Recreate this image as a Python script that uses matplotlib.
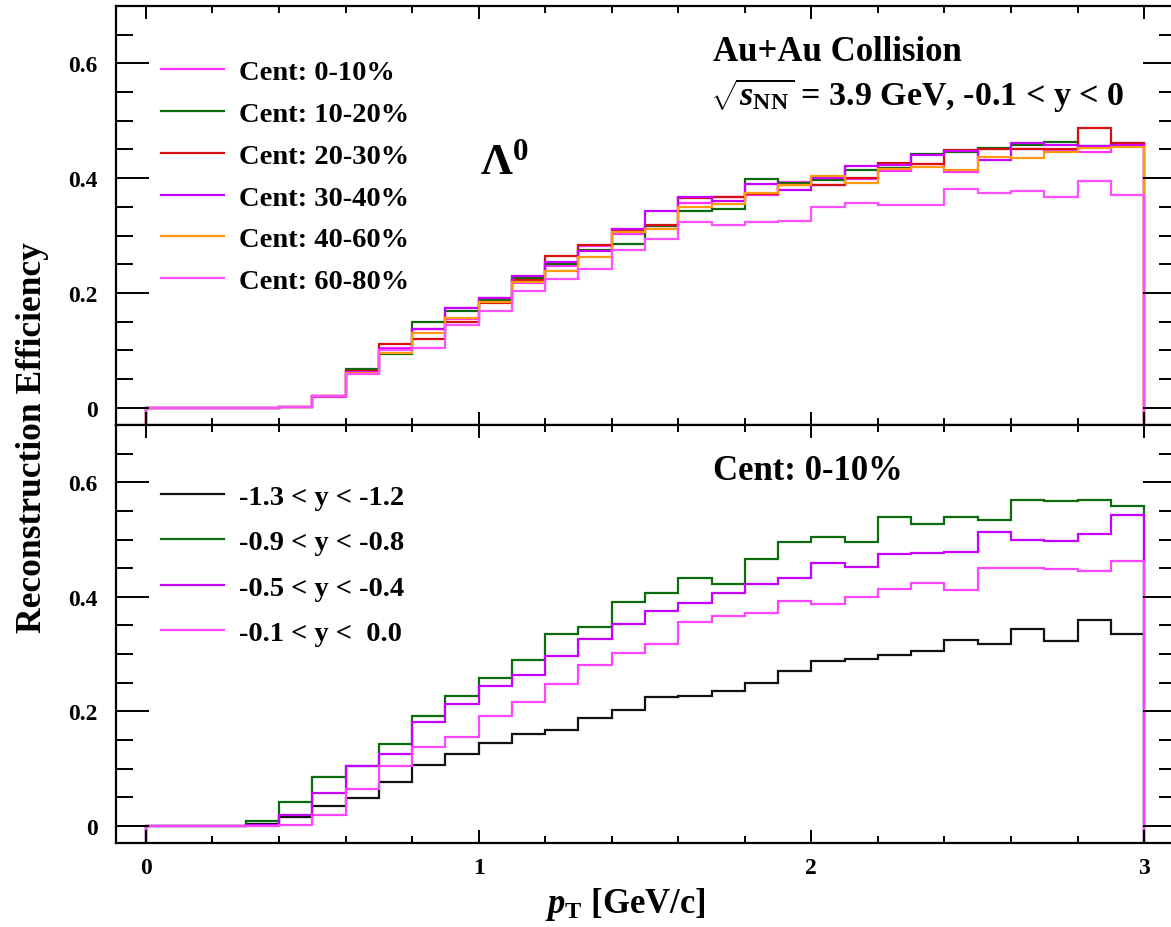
import numpy as np
import matplotlib
matplotlib.use("Agg")
import matplotlib.pyplot as plt
from matplotlib.ticker import FixedLocator, MultipleLocator, NullFormatter

plt.rcParams["font.family"] = ["Liberation Serif", "DejaVu Serif"]
plt.rcParams["font.weight"] = "bold"
plt.rcParams["mathtext.fontset"] = "custom"
plt.rcParams["mathtext.rm"] = "Liberation Serif:bold"
plt.rcParams["mathtext.it"] = "Liberation Serif:italic:bold"
plt.rcParams["mathtext.bf"] = "Liberation Serif:bold"

# pT bin edges [GeV/c]
pt_edges = np.round(np.arange(31) * 0.1, 1)

# Lambda reconstruction efficiency, -0.1 < y < 0, per centrality class
eff_cent_0_10 = [0, 0, 0, 0, 0.001, 0.019, 0.064, 0.104, 0.137, 0.155, 0.191, 0.217, 0.247, 0.281, 0.302,
                 0.317, 0.356, 0.367, 0.371, 0.393, 0.388, 0.399, 0.413, 0.424, 0.411, 0.451, 0.450, 0.449, 0.445, 0.462]
eff_cent_10_20 = [0, 0, 0, 0, 0.002, 0.021, 0.068, 0.093, 0.149, 0.169, 0.188, 0.226, 0.250, 0.275, 0.285,
                  0.317, 0.343, 0.346, 0.398, 0.392, 0.397, 0.414, 0.417, 0.443, 0.445, 0.453, 0.458, 0.463, 0.456, 0.460]
eff_cent_20_30 = [0, 0, 0, 0, 0.002, 0.021, 0.064, 0.111, 0.120, 0.150, 0.182, 0.223, 0.264, 0.284, 0.309,
                  0.318, 0.366, 0.367, 0.372, 0.388, 0.389, 0.400, 0.426, 0.424, 0.449, 0.450, 0.450, 0.451, 0.488, 0.462]
eff_cent_30_40 = [0, 0, 0, 0, 0.002, 0.021, 0.063, 0.103, 0.137, 0.174, 0.191, 0.229, 0.254, 0.273, 0.312,
                  0.342, 0.368, 0.360, 0.390, 0.380, 0.400, 0.421, 0.423, 0.440, 0.447, 0.432, 0.462, 0.458, 0.456, 0.458]
eff_cent_40_60 = [0, 0, 0, 0, 0.002, 0.021, 0.061, 0.096, 0.131, 0.157, 0.185, 0.219, 0.239, 0.263, 0.307,
                  0.311, 0.350, 0.355, 0.375, 0.389, 0.403, 0.391, 0.416, 0.420, 0.414, 0.437, 0.436, 0.446, 0.452, 0.455]
eff_cent_60_80 = [0, 0, 0, 0, 0.002, 0.021, 0.058, 0.100, 0.105, 0.144, 0.169, 0.204, 0.224, 0.242, 0.275,
                  0.294, 0.323, 0.318, 0.324, 0.325, 0.350, 0.357, 0.353, 0.353, 0.381, 0.374, 0.377, 0.367, 0.395, 0.371]

# Lambda reconstruction efficiency, 0-10% centrality, per rapidity slice
eff_y_m13 = [0, 0, 0, 0.004, 0.016, 0.035, 0.048, 0.076, 0.107, 0.126, 0.145, 0.161, 0.168, 0.189, 0.203,
             0.225, 0.227, 0.236, 0.250, 0.271, 0.288, 0.291, 0.298, 0.306, 0.325, 0.317, 0.343, 0.322, 0.359, 0.335]
eff_y_m09 = [0, 0, 0, 0.008, 0.041, 0.085, 0.105, 0.143, 0.191, 0.226, 0.259, 0.289, 0.335, 0.348, 0.391,
             0.406, 0.432, 0.423, 0.466, 0.495, 0.505, 0.495, 0.540, 0.527, 0.540, 0.534, 0.569, 0.568, 0.569, 0.558]
eff_y_m05 = [0, 0, 0, 0.001, 0.019, 0.058, 0.104, 0.125, 0.181, 0.212, 0.245, 0.263, 0.297, 0.326, 0.353,
             0.375, 0.390, 0.406, 0.423, 0.432, 0.459, 0.452, 0.474, 0.476, 0.479, 0.514, 0.499, 0.497, 0.509, 0.543]
eff_y_m01 = eff_cent_0_10

cent_labels = ["Cent: 0-10%", "Cent: 10-20%", "Cent: 20-30%", "Cent: 30-40%", "Cent: 40-60%", "Cent: 60-80%"]
cent_series = [eff_cent_0_10, eff_cent_10_20, eff_cent_20_30, eff_cent_30_40, eff_cent_40_60, eff_cent_60_80]
cent_colors = ["#ff33ff", "#0c6c0c", "#d41010", "#c800ff", "#ff9a10", "#ff50ff"]

y_labels = ["-1.3 < y < -1.2", "-0.9 < y < -0.8", "-0.5 < y < -0.4", "-0.1 < y <  0.0"]
y_series = [eff_y_m13, eff_y_m09, eff_y_m05, eff_y_m01]
y_colors = ["#111111", "#0c6c0c", "#c800ff", "#ff44ff"]

x_ticks = [0, 1, 2, 3]
x_ticklabels = ["0", "1", "2", "3"]
y_ticks = [0, 0.2, 0.4, 0.6]
y_ticklabels = ["0", "0.2", "0.4", "0.6"]

XMIN, XMAX = -0.09, 3.096
YMIN, YMAX = -0.03, 0.70

W, H = 1171, 928
fig = plt.figure(figsize=(W / 100, H / 100), dpi=100)
left, width = 116 / W, 1060 / W
ax_top = fig.add_axes([left, 1 - 426 / H, width, 419 / H])
ax_bot = fig.add_axes([left, 1 - 844 / H, width, 418 / H])


def style_axes(ax, show_xlabels):
    ax.set_xlim(XMIN, XMAX)
    ax.set_ylim(YMIN, YMAX)
    for sp in ax.spines.values():
        sp.set_linewidth(1.6)
    ax.xaxis.set_major_locator(FixedLocator(x_ticks))
    ax.xaxis.set_minor_locator(MultipleLocator(0.2))
    ax.yaxis.set_major_locator(FixedLocator(y_ticks))
    ax.yaxis.set_minor_locator(MultipleLocator(0.05))
    ax.set_yticklabels(y_ticklabels)
    if show_xlabels:
        ax.set_xticklabels(x_ticklabels)
    else:
        ax.xaxis.set_major_formatter(NullFormatter())
    ax.tick_params(axis="both", which="both", direction="in", top=True, right=True, width=1.4)
    ax.tick_params(axis="y", which="major", length=23.5, pad=13, labelsize=17)
    ax.tick_params(axis="y", which="minor", length=12)
    ax.tick_params(axis="x", which="major", length=9.5, pad=10, labelsize=17)
    ax.tick_params(axis="x", which="minor", length=5)


style_axes(ax_top, False)
style_axes(ax_bot, True)

for vals, lab, col in zip(cent_series, cent_labels, cent_colors):
    ax_top.stairs(vals, pt_edges, baseline=YMIN, color=col, lw=1.6, label=lab)

for vals, lab, col in zip(y_series, y_labels, y_colors):
    ax_bot.stairs(vals, pt_edges, baseline=YMIN, color=col, lw=1.6, label=lab)

ax_top.legend(loc="upper left", bbox_to_anchor=(161 / W, 1 - 60.5 / H), bbox_transform=fig.transFigure,
              frameon=False, fontsize=20.5, handlelength=2.2, handletextpad=0.55, labelspacing=0.555,
              borderpad=0, borderaxespad=0)
ax_bot.legend(loc="upper left", bbox_to_anchor=(161 / W, 1 - 485 / H), bbox_transform=fig.transFigure,
              frameon=False, fontsize=20.5, handlelength=2.2, handletextpad=0.55, labelspacing=0.685,
              borderpad=0, borderaxespad=0)

ax_top.text(1.704, 0.6056, "Au+Au Collision", fontsize=25, ha="left", va="baseline")
ax_top.text(1.694, 0.527, r"$\sqrt{s_{\rm NN}}$ = 3.9 GeV, -0.1 < y < 0", fontsize=24.5, ha="left", va="baseline")
ax_top.text(1.004, 0.4086, r"$\Lambda^{0}$", fontsize=32, ha="left", va="baseline")
ax_bot.text(1.704, 0.606, "Cent: 0-10%", fontsize=25, ha="left", va="baseline")

fig.text(33 / W, 1 - 438 / H, "Reconstruction Efficiency", rotation=90, fontsize=25.5, ha="center", va="center")
fig.text(625 / W, 1 - 905 / H, r"$p_{\rm T}$ [GeV/c]", fontsize=25, ha="center", va="center")

fig.savefig("out.png", dpi=100)
